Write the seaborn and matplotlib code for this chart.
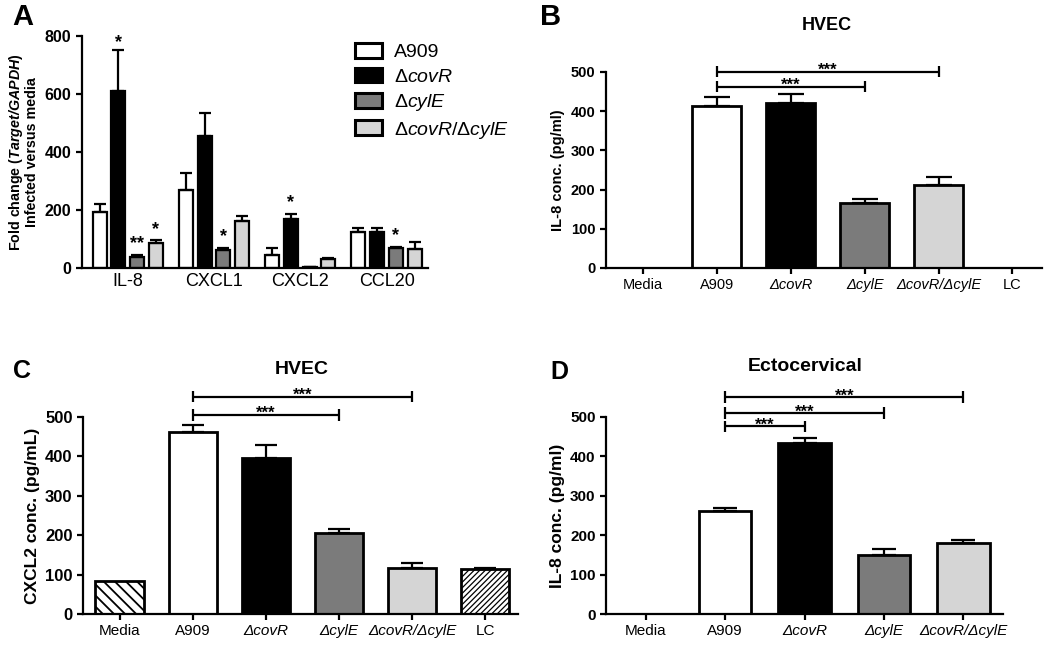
import numpy as np
import pandas as pd
import matplotlib
matplotlib.use("Agg")
import matplotlib.pyplot as plt
import seaborn as sns
from matplotlib.patches import Patch

# ---------------- data ----------------
# Panel A
genes = ["IL-8", "CXCL1", "CXCL2", "CCL20"]
strains = ["A909", "ΔcovR", "ΔcylE", "ΔcovR/ΔcylE"]
a_A909 = [194, 270, 45, 125]
a_covR = [612, 456, 169, 125]
a_cylE = [37, 63, 4, 69]
a_double = [85, 163, 32, 67]
a_A909_err = [28, 58, 25, 14]
a_covR_err = [140, 77, 18, 12]
a_cylE_err = [8, 6, 1, 3]
a_double_err = [10, 17, 2, 23]
a_stars = [("IL-8", "ΔcovR", "*"), ("IL-8", "ΔcylE", "**"), ("IL-8", "ΔcovR/ΔcylE", "*"),
           ("CXCL1", "ΔcylE", "*"), ("CXCL2", "ΔcovR", "*"), ("CCL20", "ΔcylE", "*")]

# Panel B (HVEC, IL-8)
b_cats = ["Media", "A909", "ΔcovR", "ΔcylE", "ΔcovR/ΔcylE", "LC"]
b_vals = [0, 413, 422, 167, 211, 0]
b_err = [0, 22, 22, 10, 21, 0]
b_brackets = [("A909", "ΔcylE", 463), ("A909", "ΔcovR/ΔcylE", 501)]

# Panel C (HVEC, CXCL2)
c_cats = ["Media", "A909", "ΔcovR", "ΔcylE", "ΔcovR/ΔcylE", "LC"]
c_vals = [83, 462, 396, 206, 118, 114]
c_err = [0, 18, 33, 10, 11, 2]
c_brackets = [("A909", "ΔcylE", 506), ("A909", "ΔcovR/ΔcylE", 552)]

# Panel D (Ectocervical, IL-8)
d_cats = ["Media", "A909", "ΔcovR", "ΔcylE", "ΔcovR/ΔcylE"]
d_vals = [0, 261, 434, 150, 180]
d_err = [0, 9, 13, 14, 8]
d_brackets = [("A909", "ΔcovR", 476), ("A909", "ΔcylE", 511), ("A909", "ΔcovR/ΔcylE", 551)]

colors = {"Media": "white", "A909": "white", "ΔcovR": "black", "ΔcylE": "#7b7b7b",
          "ΔcovR/ΔcylE": "#d5d5d5", "LC": "white"}

# ---------------- style ----------------
sns.set_style("ticks")
plt.rcParams["font.family"] = ["Liberation Sans", "DejaVu Sans"]
plt.rcParams["text.color"] = "black"
plt.rcParams["axes.labelcolor"] = "black"
plt.rcParams["xtick.color"] = "black"
plt.rcParams["ytick.color"] = "black"
plt.rcParams["axes.edgecolor"] = "black"
plt.rcParams["mathtext.fontset"] = "custom"
plt.rcParams["mathtext.rm"] = "Liberation Sans"
plt.rcParams["mathtext.it"] = "Liberation Sans:italic"
plt.rcParams["mathtext.bf"] = "Liberation Sans:bold"
try:
    plt.rcParams["mathtext.bfit"] = "Liberation Sans:italic:bold"
    HAS_BFIT = True
except Exception:
    HAS_BFIT = False
plt.rcParams["hatch.color"] = "black"
plt.rcParams["hatch.linewidth"] = 1.3

LW = 1.6
fig = plt.figure(figsize=(10.5, 6.45), dpi=100)


def style_axes(ax, ytick_size, xtick_size, xticks=True):
    sns.despine(ax=ax)
    for s in ("left", "bottom"):
        ax.spines[s].set_linewidth(LW)
        ax.spines[s].set_color("black")
    ax.tick_params(axis="y", direction="out", length=4, width=LW, labelsize=ytick_size,
                   colors="black", labelcolor="black")
    ax.tick_params(axis="x", direction="out", length=4 if xticks else 0, width=LW,
                   labelsize=xtick_size, colors="black", labelcolor="black")
    for t in ax.get_yticklabels():
        t.set_fontweight("bold")
    ax.set_xlabel("")


def italic_delta_labels(ax):
    for t in ax.get_xticklabels():
        if "Δ" in t.get_text():
            t.set_fontstyle("italic")


def draw_brackets(ax, cats, brackets, star_size):
    for c1, c2, y in brackets:
        x1, x2 = cats.index(c1), cats.index(c2)
        h = 15
        ax.plot([x1, x2], [y, y], color="black", lw=LW, clip_on=False, solid_capstyle="butt")
        ax.plot([x1, x1], [y - h, y + h], color="black", lw=LW, clip_on=False, solid_capstyle="butt")
        ax.plot([x2, x2], [y - h, y + h], color="black", lw=LW, clip_on=False, solid_capstyle="butt")
        ax.annotate("***", xy=((x1 + x2) / 2, y), xytext=(0, -2.6), textcoords="offset points",
                    ha="center", va="baseline", fontsize=star_size, fontweight="bold",
                    annotation_clip=False)


def simple_panel(rect, cats, vals, errs, brackets, ylabel, ylab_size, ytick_size, xtick_size,
                 xlim, capsize):
    ax = fig.add_axes(rect)
    df = pd.DataFrame({"cat": cats, "val": vals})
    sns.barplot(data=df, x="cat", y="val", hue="cat", order=cats, hue_order=cats,
                palette=colors, legend=False, width=0.66, edgecolor="black",
                linewidth=2.0, errorbar=None, dodge=False, ax=ax)
    x = np.arange(len(cats))
    errs = np.asarray(errs, float)
    m = errs > 0
    ax.errorbar(x[m], np.asarray(vals, float)[m], yerr=[np.zeros(m.sum()), errs[m]],
                fmt="none", ecolor="black", elinewidth=LW, capsize=capsize, capthick=LW, zorder=5)
    ax.set_ylim(0, 500)
    ax.set_yticks([0, 100, 200, 300, 400, 500])
    ax.set_xlim(*xlim)
    ax.set_ylabel(ylabel, fontsize=ylab_size, fontweight="bold")
    style_axes(ax, ytick_size, xtick_size)
    italic_delta_labels(ax)
    draw_brackets(ax, cats, brackets, 12)
    return ax


# ---------------- Panel A ----------------
axA = fig.add_axes([82 / 1050, 1 - 268 / 645, (428 - 82) / 1050, (268 - 36) / 645])
a_values = [a_A909, a_covR, a_cylE, a_double]
a_errors = [a_A909_err, a_covR_err, a_cylE_err, a_double_err]
rows = []
for s, v in zip(strains, a_values):
    for g, val in zip(genes, v):
        rows.append({"gene": g, "strain": s, "val": val})
dfA = pd.DataFrame(rows)
GW = 0.87
sns.barplot(data=dfA, x="gene", y="val", hue="strain", order=genes, hue_order=strains,
            palette=colors, width=GW, gap=0.25, edgecolor="black", linewidth=1.6,
            errorbar=None, legend=False, ax=axA)
slot = GW / len(strains)
for j, (s, v, e) in enumerate(zip(strains, a_values, a_errors)):
    xs = np.arange(len(genes)) + (j - 1.5) * slot
    axA.errorbar(xs, v, yerr=[np.zeros(len(genes)), e], fmt="none", ecolor="black",
                 elinewidth=LW, capsize=4, capthick=LW, zorder=5)
for g, s, lab in a_stars:
    i, j = genes.index(g), strains.index(s)
    top = a_values[j][i] + a_errors[j][i]
    y = min(top + 58, 795)
    axA.annotate(lab, xy=(i + (j - 1.5) * slot, y), xytext=(0, -7.2), textcoords="offset points",
                 ha="center", va="baseline", fontsize=13, fontweight="bold", annotation_clip=False)
axA.set_ylim(0, 800)
axA.set_yticks([0, 200, 400, 600, 800])
axA.set_xlim(-0.53, 3.48)
if HAS_BFIT:
    ylabA = "Fold change ($\\mathbfit{Target/GAPDH}$)\nInfected versus media"
else:
    ylabA = "Fold change ($\\mathit{Target/GAPDH}$)\nInfected versus media"
axA.set_ylabel(ylabA, fontsize=10.3, fontweight="bold", linespacing=1.0)
style_axes(axA, 11.5, 13, xticks=False)

leg_labels = ["A909", "Δ$\\mathit{covR}$", "Δ$\\mathit{cylE}$", "Δ$\\mathit{covR/}$Δ$\\mathit{cylE}$"]
handles = [Patch(facecolor=colors[s], edgecolor="black", linewidth=2.2) for s in strains]
fig.legend(handles, leg_labels, loc="upper left", bbox_to_anchor=(355 / 1050, 1 - 43 / 645),
           frameon=False, fontsize=14, handlelength=1.4, handleheight=0.8,
           handletextpad=0.6, labelspacing=0.33, borderpad=0, borderaxespad=0)

# ---------------- Panel B ----------------
simple_panel([606 / 1050, 1 - 268 / 645, (1042 - 606) / 1050, (268 - 72) / 645],
             b_cats, b_vals, b_err, b_brackets, "IL-8 conc. (pg/ml)", 10.5, 10.5, 10.5,
             (-0.5, 5.4), 9.5)

# ---------------- Panel C ----------------
axC = simple_panel([83 / 1050, 1 - 614 / 645, (518 - 83) / 1050, (614 - 417) / 645],
                   c_cats, c_vals, c_err, c_brackets, "CXCL2 conc. (pg/mL)", 12.5, 12, 11,
                   (-0.5, 5.45), 8)
# hatched controls
for p, cat in zip(axC.patches, c_cats):
    if cat == "Media":
        p.set_hatch("\\\\\\")
    elif cat == "LC":
        p.set_hatch("//////")
        if hasattr(p, "set_hatch_linewidth"):
            p.set_hatch_linewidth(0.9)

# ---------------- Panel D ----------------
simple_panel([606 / 1050, 1 - 614 / 645, (1003 - 606) / 1050, (614 - 417) / 645],
             d_cats, d_vals, d_err, d_brackets, "IL-8 conc. (pg/ml)", 12.5, 11, 11,
             (-0.5, 4.5), 8.5)

# ---------------- titles & panel letters ----------------
fig.text(827 / 1050, 1 - 30 / 645, "HVEC", ha="center", va="baseline", fontsize=13, fontweight="bold")
fig.text(302 / 1050, 1 - 374 / 645, "HVEC", ha="center", va="baseline", fontsize=14, fontweight="bold")
fig.text(805 / 1050, 1 - 371 / 645, "Ectocervical", ha="center", va="baseline", fontsize=14, fontweight="bold")

fig.text(12 / 1050, 1 - 25 / 645, "A", ha="left", va="baseline", fontsize=21, fontweight="bold")
fig.text(540 / 1050, 1 - 25 / 645, "B", ha="left", va="baseline", fontsize=21, fontweight="bold")
fig.text(13 / 1050, 1 - 378 / 645, "C", ha="left", va="baseline", fontsize=18, fontweight="bold")
fig.text(550 / 1050, 1 - 379 / 645, "D", ha="left", va="baseline", fontsize=18, fontweight="bold")

fig.savefig("out.png", dpi=100)
